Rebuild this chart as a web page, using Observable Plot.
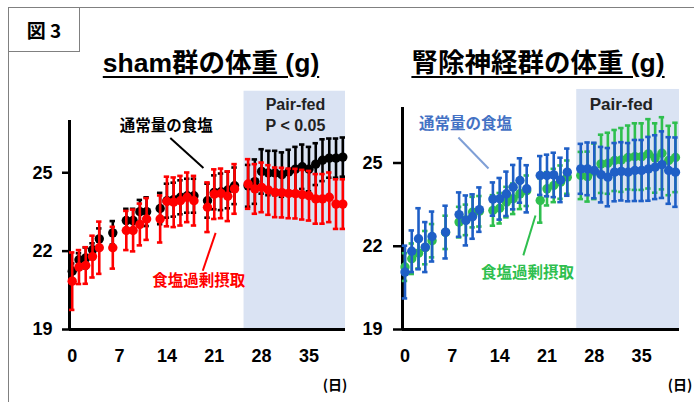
<!DOCTYPE html>
<html>
<head>
<meta charset="utf-8">
<script src="https://cdn.jsdelivr.net/npm/d3@7"></script>
<script src="https://cdn.jsdelivr.net/npm/@observablehq/plot@0.6"></script>
<style>
  html, body { margin: 0; padding: 0; background: #fff; }
  #fig { position: relative; width: 694px; height: 402px; overflow: hidden; background: #fff;
         font-family: "Liberation Sans", "Noto Sans CJK JP", sans-serif; }
  #frame { position: absolute; left: 8px; top: 7px; width: 700px; height: 400px;
           border-top: 1px solid #808080; border-left: 1px solid #808080; }
  #figno { position: absolute; left: 8px; top: 7px; width: 72px; height: 45px;
           border: 1px solid #808080; box-sizing: border-box; display: flex; align-items: center;
           justify-content: center; font-weight: bold; font-size: 19px; font-family: "Noto Sans CJK JP", sans-serif; }
  .title { position: absolute; top: 41px; font-weight: bold; font-size: 26.5px; white-space: nowrap;
           text-decoration: underline; text-decoration-thickness: 2px; text-underline-offset: 4px;
           font-family: "Liberation Sans", "Noto Sans CJK JP", sans-serif; transform: translateX(-50%); }
  .unit { position: absolute; top: 374px; font-weight: bold; font-size: 14px;
          font-family: "Noto Sans CJK JP", sans-serif; transform: translateX(-50%); }
  .panel { position: absolute; top: 0; }
</style>
</head>
<body>
<div id="fig">
  <div id="frame"></div>
  <div id="figno">図 3</div>
  <div class="title" style="left:211px">sham群の体重 (g)</div>
  <div class="title" style="left:538px">腎除神経群の体重 (g)</div>
  <div class="unit" style="left:335px">(日)</div>
  <div class="unit" style="left:680px">(日)</div>
  <div class="panel" id="left" style="left:0px"></div>
  <div class="panel" id="right" style="left:333px"></div>
</div>
<script>
// ---- data (body weight, g; mean and SEM by day) ----
const days = [0,1,2,3,4,6,8,9,10,11,13,14,15,16,17,18,20,21,22,23,24,26,27,28,29,30,31,32,33,34,35,36,37,38,39,40];

const shamNormal    = [21.23,21.67,21.74,22.05,22.47,22.70,23.17,23.17,23.51,23.51,23.63,23.93,23.97,24.06,24.12,24.12,23.93,24.25,24.27,24.34,24.50,24.50,24.66,25.05,24.99,24.99,24.93,25.03,25.14,25.23,25.14,25.33,25.48,25.56,25.56,25.60];
const shamNormalErr = [0.30,0.25,0.40,0.25,0.40,0.45,0.45,0.45,0.45,0.55,0.60,0.65,0.65,0.65,0.65,0.65,0.65,0.65,0.70,0.70,0.70,0.80,0.85,0.85,0.85,0.85,0.85,0.85,0.85,0.85,0.85,0.80,0.80,0.75,0.75,0.75];
const shamSalt      = [20.85,21.39,21.45,21.79,22.13,22.13,22.79,22.79,23.02,23.23,23.23,23.90,23.87,23.93,24.06,23.93,23.68,24.18,24.21,24.10,24.38,24.57,24.38,24.44,24.34,24.25,24.24,24.21,24.20,24.16,24.12,24.00,24.00,24.06,23.80,23.80];
const shamSaltErr   = [1.10,0.65,0.70,0.80,1.00,0.80,0.75,0.80,0.80,0.80,0.90,0.95,0.95,0.95,0.95,0.95,0.95,0.95,0.95,0.95,0.95,0.95,0.95,0.95,0.95,0.95,0.95,0.95,0.95,0.95,0.95,0.95,0.95,0.95,0.95,0.95];

const rdnNormal     = [21.07,21.82,22.27,21.97,22.35,22.51,23.14,22.93,23.07,23.32,23.70,23.71,23.89,24.13,24.37,24.07,24.55,24.55,24.57,24.39,24.67,24.79,24.79,24.73,24.58,24.49,24.67,24.70,24.67,24.73,24.73,24.79,24.85,24.94,24.73,24.67];
const rdnNormalErr  = [0.95,0.75,1.10,0.90,0.90,0.95,0.80,0.90,0.80,0.80,0.60,0.75,0.80,0.80,0.80,0.85,0.70,0.75,0.80,0.80,0.85,0.90,0.95,1.00,1.00,1.05,1.05,1.05,1.05,1.10,1.10,1.15,1.15,1.20,1.20,1.25];
const rdnSalt       = [21.25,21.55,21.75,21.95,22.20,22.50,22.87,22.95,23.23,23.26,23.29,23.37,23.59,23.71,23.89,24.00,23.65,24.07,24.19,24.31,24.49,24.55,24.51,24.70,24.97,24.99,25.09,25.11,25.20,25.23,25.23,25.33,25.18,25.35,25.09,25.20];
const rdnSaltErr    = [0.50,0.55,0.55,0.60,0.60,0.60,0.55,0.55,0.55,0.55,0.55,0.55,0.55,0.55,0.55,0.55,0.80,0.60,0.60,0.60,0.60,0.85,0.90,1.00,1.05,1.10,1.10,1.15,1.15,1.20,1.20,1.25,1.25,1.30,1.25,1.25];

const xTicks = [0,7,14,21,28,35];
const yTicks = [19,22,25];
const pairFedStart = 25.4;

const toRows = (vals, errs) => days.map((d, i) => ({day: d, v: vals[i], lo: vals[i] - errs[i], hi: vals[i] + errs[i]}));

function series(rows, color) {
  const cap = 0.4;
  return [
    Plot.ruleX(rows, {x: "day", y1: "lo", y2: "hi", stroke: color, strokeWidth: 2.6}),
    Plot.ruleY(rows, {y: "hi", x1: d => d.day - cap, x2: d => d.day + cap, stroke: color, strokeWidth: 2.6}),
    Plot.ruleY(rows, {y: "lo", x1: d => d.day - cap, x2: d => d.day + cap, stroke: color, strokeWidth: 2.6}),
    Plot.dot(rows, {x: "day", y: "v", r: 4.7, fill: color, stroke: "none"})
  ];
}

function panel(cfg) {
  const txt = {fontFamily: "Noto Sans CJK JP", fontWeight: "bold", fontSize: 15.5};
  return Plot.plot({
    width: cfg.width, height: 402,
    marginLeft: 69, marginRight: cfg.marginRight, marginTop: cfg.marginTop, marginBottom: 73,
    x: {domain: cfg.xDomain},
    y: {domain: [19, 27]},
    style: {background: "transparent", color: "#000", fontFamily: "Liberation Sans, Arial, sans-serif"},
    marks: [
      Plot.rect([{x1: pairFedStart, x2: cfg.xDomain[1], y1: 19, y2: cfg.shadeTop}], {x1: "x1", x2: "x2", y1: "y1", y2: "y2", fill: "#dae3f3"}),
      Plot.axisY({ticks: yTicks, tickSize: cfg.tickSize, tickPadding: cfg.tickPad, strokeWidth: 2.5, label: null,
                  fontSize: 18, fontWeight: "bold", fontFamily: "Liberation Sans, Arial, sans-serif"}),
      Plot.axisX({ticks: xTicks, tickSize: 0, tickPadding: 20, label: null,
                  fontSize: 18, fontWeight: "bold", fontFamily: "Liberation Sans, Arial, sans-serif"}),
      Plot.ruleX([cfg.xDomain[0]], {strokeWidth: 3, stroke: "#000"}),
      Plot.ruleY([19], {strokeWidth: 3, stroke: "#000"}),
      ...series(cfg.back, cfg.backColor),
      ...series(cfg.front, cfg.frontColor),
      Plot.link(cfg.leaders, {x1: "x1", y1: "y1", x2: "x2", y2: "y2", stroke: "c", strokeWidth: 2}),
      Plot.text(cfg.labels, {x: "x", y: "y", text: "t", fill: "c", ...txt}),
      Plot.text(cfg.pairFed, {x: "x", y: "y", text: "t", fill: "#222", fontFamily: "Liberation Sans, Arial, sans-serif",
                              fontWeight: "bold", fontSize: cfg.pfSize})
    ]
  });
}

document.getElementById("left").append(panel({
  width: 350, marginRight: 5, marginTop: 120, xDomain: [-0.4, 40.4], shadeTop: 28.12,
  tickSize: 7, tickPad: 10,
  back: toRows(shamNormal, shamNormalErr), backColor: "#000000",
  front: toRows(shamSalt, shamSaltErr), frontColor: "#ff0000",
  leaders: [
    {x1: 14.5, y1: 26.33, x2: 19.4, y2: 25.18, c: "#000"},
    {x1: 21.2, y1: 22.70, x2: 19.3, y2: 21.25, c: "#ff0000"}
  ],
  labels: [
    {x: 13.9, y: 26.79, t: "通常量の食塩", c: "#000"},
    {x: 18.7, y: 20.87, t: "食塩過剰摂取", c: "#ff0000"}
  ],
  pairFed: [{x: 33.0, y: 27.58, t: "Pair-fed"}, {x: 33.0, y: 26.80, t: "P < 0.05"}],
  pfSize: 16
}));

document.getElementById("right").append(panel({
  width: 361, marginRight: 15, marginTop: 107, xDomain: [-0.37, 40.6], shadeTop: 27.65,
  tickSize: 9, tickPad: 11,
  back: toRows(rdnSalt, rdnSaltErr), backColor: "#2fbf4f",
  front: toRows(rdnNormal, rdnNormalErr), frontColor: "#1f5fc6",
  leaders: [
    {x1: 7.9, y1: 25.92, x2: 12.35, y2: 24.80, c: "#7f9fd6"},
    {x1: 19.3, y1: 23.11, x2: 17.5, y2: 21.67, c: "#2fbf4f"}
  ],
  labels: [
    {x: 8.95, y: 26.42, t: "通常量の食塩", c: "#4472c4"},
    {x: 18.1, y: 21.02, t: "食塩過剰摂取", c: "#2fbf4f"}
  ],
  pairFed: [{x: 32.0, y: 27.12, t: "Pair-fed"}],
  pfSize: 17
}));
</script>
</body>
</html>
